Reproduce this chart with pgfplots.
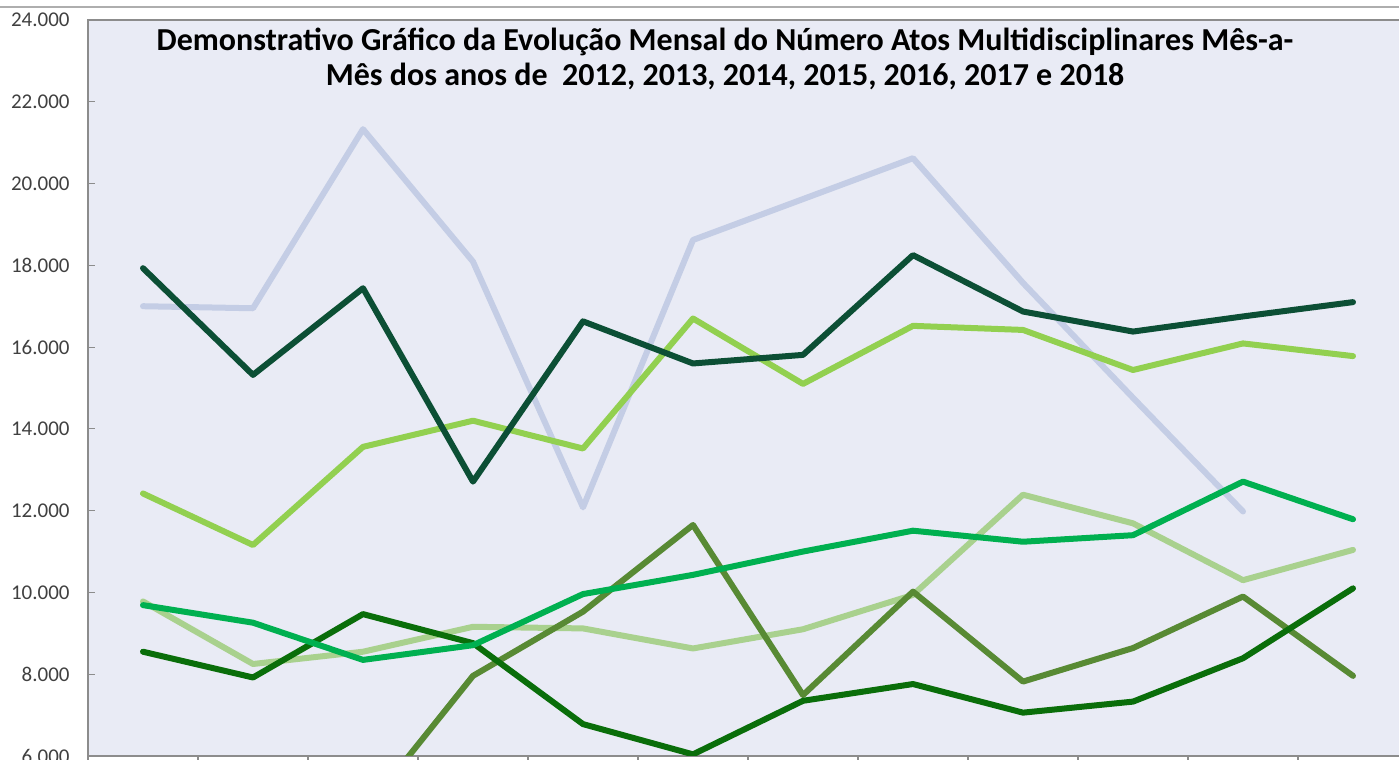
\documentclass[border=0pt]{standalone}
\usepackage{fontspec}
\setmainfont{Carlito}
\usepackage{xcolor}
\usepackage{pgfplots}
\pgfplotsset{compat=1.18}

\definecolor{plotbg}{HTML}{E9EBF5}
\definecolor{framegray}{HTML}{8C8C8C}
\definecolor{ticktext}{HTML}{404040}
\definecolor{lavender}{HTML}{C4CDE5}
\definecolor{darkteal}{HTML}{0C4F35}
\definecolor{lightgreen}{HTML}{92D050}
\definecolor{brightgreen}{HTML}{00B050}
\definecolor{palegreen}{HTML}{A9D18E}
\definecolor{olive}{HTML}{588A34}
\definecolor{darkgreen}{HTML}{0A6E0A}

\begin{document}
\begin{tikzpicture}
\useasboundingbox (0,0) rectangle (699.5pt,380pt);
\clip (0,0) rectangle (699.5pt,380pt);
\draw[framegray!70, line width=0.6pt] (0,376.5pt) -- (699.5pt,376.5pt);
\begin{axis}[
  at={(44pt,2pt)}, anchor=south west,
  scale only axis, width=660pt, height=368pt,
  xmin=0.5, xmax=12.5, ymin=6000, ymax=24000,
  axis background/.style={fill=plotbg},
  axis line style={draw=framegray, line width=1pt},
  xtick={0.5,1.5,...,12.5}, xticklabels={},
  ytick={6000,8000,...,24000},
  xtick pos=bottom, ytick pos=left,
  xtick align=outside, ytick align=inside,
  major tick length=3.5pt,
  tick style={draw=framegray, line width=0.6pt},
  scaled y ticks=false,
  /pgf/number format/.cd, 1000 sep={.}, assume math mode=true,
  /pgfplots/.cd,
  yticklabel style={font=\fontsize{10.5}{12}\selectfont, text=ticktext, anchor=east, inner sep=0pt, xshift=-9pt},
  title={Demonstrativo Gráfico da Evolução Mensal do Número Atos Multidisciplinares Mês-a-\\Mês dos anos de~ 2012, 2013, 2014, 2015, 2016, 2017 e 2018},
  title style={at={(0.4826,0.949)}, anchor=center, yshift=-6.5pt, align=center, font=\bfseries\fontsize{16}{17.5}\selectfont},
  every axis plot/.append style={line width=3pt, line join=round, line cap=round, no markers},
]
% light blue series (ends in November)
\addplot[lavender] coordinates {(1,17000)(2,16950)(3,21330)(4,18090)(5,12080)(6,18620)(7,19620)(8,20620)(9,17570)(10,14760)(11,11980)};
\addplot[palegreen] coordinates {(1,9780)(2,8250)(3,8550)(4,9160)(5,9120)(6,8630)(7,9100)(8,9940)(9,12390)(10,11690)(11,10300)(12,11040)};
\addplot[olive] coordinates {(3,4600)(4,7960)(5,9530)(6,11650)(7,7490)(8,10020)(9,7820)(10,8640)(11,9900)(12,7960)};
\addplot[lightgreen] coordinates {(1,12420)(2,11160)(3,13560)(4,14200)(5,13520)(6,16700)(7,15100)(8,16520)(9,16420)(10,15440)(11,16090)(12,15780)};
\addplot[darkgreen] coordinates {(1,8550)(2,7920)(3,9470)(4,8760)(5,6780)(6,6040)(7,7350)(8,7760)(9,7060)(10,7330)(11,8390)(12,10100)};
\addplot[brightgreen] coordinates {(1,9690)(2,9260)(3,8350)(4,8710)(5,9960)(6,10430)(7,11000)(8,11510)(9,11240)(10,11400)(11,12710)(12,11790)};
\addplot[darkteal] coordinates {(1,17930)(2,15320)(3,17440)(4,12710)(5,16630)(6,15600)(7,15810)(8,18250)(9,16870)(10,16380)(11,16750)(12,17100)};
\end{axis}
\end{tikzpicture}
\end{document}
